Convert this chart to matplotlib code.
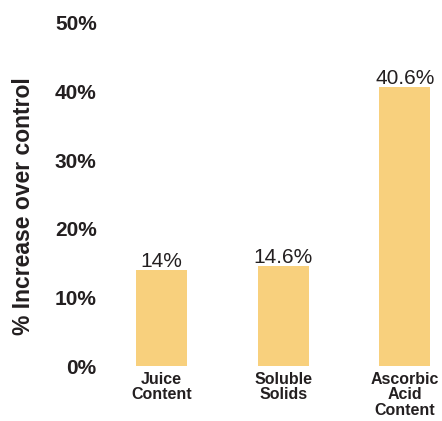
import matplotlib
matplotlib.use("Agg")
import matplotlib.pyplot as plt

categories = ["Juice\nContent", "Soluble\nSolids", "Ascorbic\nAcid\nContent"]
increase = [14.0, 14.6, 40.6]
value_labels = ["14%", "14.6%", "40.6%"]
yticks = [0, 10, 20, 30, 40, 50]

plt.rcParams["font.family"] = ["Liberation Sans", "DejaVu Sans"]
TXT = "#231f20"
BAR = "#f8d07d"

fig = plt.figure(figsize=(4.42, 4.21), dpi=100)
ax = fig.add_axes([105 / 442, 55 / 421, 335 / 442, 343 / 421])

x = range(len(categories))
bars = ax.bar(x, increase, width=0.42, color=BAR, zorder=2)

for b, lab in zip(bars, value_labels):
    ax.text(b.get_x() + b.get_width() / 2, b.get_height() - 0.1, lab,
            ha="center", va="bottom", fontsize=15, color=TXT)

ax.set_xlim(-0.465, 2.29)
ax.set_ylim(0, 50)
ax.set_yticks(yticks)
ax.set_yticklabels([f"{t}%" for t in yticks], fontsize=15, fontweight="bold", color=TXT)
ax.set_xticks(list(x))
ax.set_xticklabels(categories, fontsize=11.5, fontweight="bold", color=TXT, linespacing=1.05)
ax.tick_params(axis="both", length=0)
ax.tick_params(axis="y", pad=6)
ax.tick_params(axis="x", pad=4)
for s in ax.spines.values():
    s.set_visible(False)

fig.text(24 / 442, 1 - 206 / 421, "% Increase over control", rotation=90,
         ha="center", va="center", fontsize=16.5, fontweight="bold", color=TXT)

fig.savefig("out.png", dpi=100)
